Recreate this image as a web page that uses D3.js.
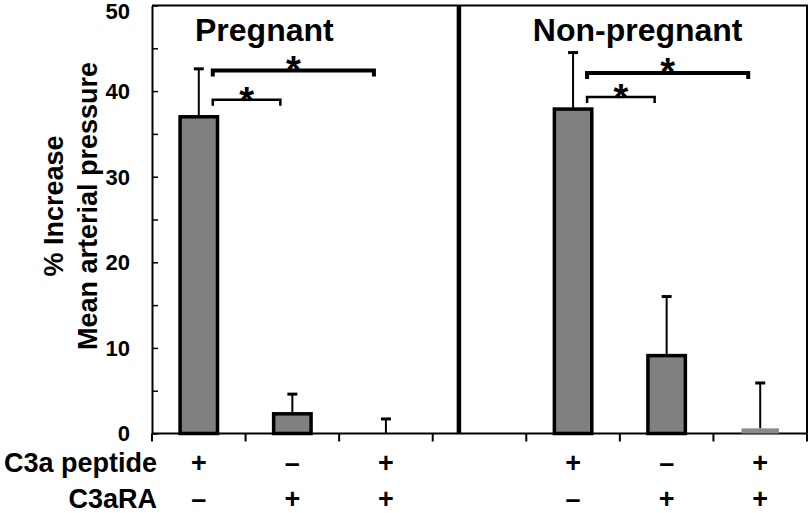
<!DOCTYPE html>
<html>
<head>
<meta charset="utf-8">
<script src="https://cdn.jsdelivr.net/npm/d3@7"></script>
<style>
  html, body { margin: 0; padding: 0; background: #fff; }
  text { font-family: "Liberation Sans", Arial, sans-serif; font-weight: bold; fill: #000; }
</style>
</head>
<body>
<svg id="chart" width="812" height="513"></svg>
<script>
// ---- data ----
const categories = ["P1", "P2", "P3", "gap", "NP1", "NP2", "NP3"];
const groups = ["Pregnant", "Non-pregnant"];
const barCats = ["P1", "P2", "P3", "NP1", "NP2", "NP3"];
const meanValues = [37.0, 2.3, 0.0, 37.9, 9.1, 0.6];
const errValues = [5.6, 2.3, 1.7, 6.6, 6.9, 5.3];
const bordered = [true, true, true, true, true, false];
const c3aPeptide = ["+", "\u2013", "+", "+", "\u2013", "+"];
const c3aRA = ["\u2013", "+", "+", "\u2013", "+", "+"];
const yTicks = [0, 5, 10, 15, 20, 25, 30, 35, 40, 45, 50];
const yTickLabels = [0, 10, 20, 30, 40, 50];
const brackets = [
  { from: "P1", to: "P3", level: 42.4, label: "*", heavy: true },
  { from: "P1", to: "P2", level: 39.0, label: "*", heavy: false },
  { from: "NP1", to: "NP3", level: 42.1, label: "*", heavy: true },
  { from: "NP1", to: "NP2", level: 39.3, label: "*", heavy: false }
];
const yLabelLines = ["% Increase", "Mean arterial pressure"];
const rowLabels = ["C3a peptide", "C3aRA"];

(function () {
// ---- layout ----
const svg = d3.select("#chart");
const pLeft = 152, pRight = 807, pTop = 5.5, pBottom = 433.5;

const x = d3.scaleBand().domain(categories).range([pLeft, pRight]).paddingInner(0).paddingOuter(0);
const y = d3.scaleLinear().domain([0, 50]).range([pBottom, pTop]);
const bw = x.bandwidth();
const barW = bw * 0.40;
const cx = c => x(c) + bw / 2;

// frame (top & right)
svg.append("path")
  .attr("d", `M${pLeft},${pTop}H${pRight}V${pBottom}`)
  .attr("fill", "none").attr("stroke", "#000").attr("stroke-width", 2);

// y axis (ticks inward, labels drawn separately)
const yAxis = d3.axisLeft(y).tickValues(yTicks).tickSizeInner(-6).tickSizeOuter(0).tickFormat("");
const gy = svg.append("g").attr("transform", `translate(${pLeft},0)`).call(yAxis);
gy.select(".domain").attr("stroke-width", 2);
gy.selectAll(".tick line").attr("stroke-width", 1.5);
gy.selectAll(".tick text").remove();

svg.append("g").selectAll("text").data(yTickLabels).enter().append("text")
  .attr("x", 130)
  .attr("y", d => Math.max(y(d), 11))
  .attr("dy", "0.36em")
  .attr("text-anchor", "end")
  .attr("font-size", 22)
  .text(d => d);

// x axis line & ticks
svg.append("line").attr("x1", pLeft).attr("x2", pRight).attr("y1", pBottom).attr("y2", pBottom)
  .attr("stroke", "#000").attr("stroke-width", 2);
const edges = categories.map(c => x(c)).concat([pRight]);
svg.selectAll(".xt").data(edges).enter().append("line")
  .attr("x1", d => d).attr("x2", d => d).attr("y1", pBottom).attr("y2", pBottom + 8)
  .attr("stroke", "#000").attr("stroke-width", 2);

// divider between panels
const divX = x("gap") + bw * 0.28;
svg.append("line").attr("x1", divX).attr("x2", divX).attr("y1", pTop).attr("y2", pBottom)
  .attr("stroke", "#000").attr("stroke-width", 4.5);

// bars
const barData = barCats.map((c, i) => ({ c, v: meanValues[i], e: errValues[i], b: bordered[i] }));

// error bars (behind bars)
const eg = svg.append("g");
barData.forEach(d => {
  const xc = cx(d.c);
  eg.append("line").attr("x1", xc).attr("x2", xc).attr("y1", y(d.v)).attr("y2", y(d.v + d.e))
    .attr("stroke", "#000").attr("stroke-width", 2);
  eg.append("line").attr("x1", xc - 5).attr("x2", xc + 5).attr("y1", y(d.v + d.e)).attr("y2", y(d.v + d.e))
    .attr("stroke", "#000").attr("stroke-width", 3);
});

svg.append("g").selectAll("rect").data(barData.filter(d => d.v > 0)).enter().append("rect")
  .attr("x", d => cx(d.c) - barW / 2)
  .attr("width", barW)
  .attr("y", d => y(d.v))
  .attr("height", d => y(0) - y(d.v))
  .attr("fill", d => d.b ? "#808080" : "#8a8a8a")
  .attr("stroke", d => d.b ? "#000" : "none")
  .attr("stroke-width", 3.5);

// significance brackets
brackets.forEach(b => {
  const x1 = cx(b.from) + 14;
  const x2 = cx(b.to) - 12;
  const yy = y(b.level);
  const sw = b.heavy ? 4 : 2.5;
  const drop = 6;
  svg.append("path")
    .attr("d", `M${x1},${yy + drop}V${yy}H${x2}V${yy + drop}`)
    .attr("fill", "none").attr("stroke", "#000").attr("stroke-width", sw);
  svg.append("text").attr("x", (x1 + x2) / 2).attr("y", yy + (b.heavy ? 12 : 14))
    .attr("text-anchor", "middle").attr("font-size", 38).text(b.label);
});

// panel titles
const titleCenters = [ (x("P1") + x("P3") + bw) / 2 - 28, (x("NP1") + x("NP3") + bw) / 2 - 29 ];
groups.forEach((g, i) => {
  svg.append("text").attr("x", titleCenters[i]).attr("y", 41)
    .attr("text-anchor", "middle").attr("font-size", 32).text(g);
});

// y label
const yl = svg.append("text").attr("transform", "translate(0,206) rotate(-90)")
  .attr("text-anchor", "middle").attr("font-size", 27);
yl.append("tspan").attr("x", 0).attr("y", 63).text(yLabelLines[0]);
yl.append("tspan").attr("x", 0).attr("y", 97).text(yLabelLines[1]);

// treatment rows
const rowY = [472, 508];
svg.append("text").attr("x", 157).attr("y", rowY[0]).attr("text-anchor", "end").attr("font-size", 27).text(rowLabels[0]);
svg.append("text").attr("x", 157).attr("y", rowY[1]).attr("text-anchor", "end").attr("font-size", 27).text(rowLabels[1]);
barCats.forEach((c, i) => {
  svg.append("text").attr("x", cx(c)).attr("y", rowY[0]).attr("text-anchor", "middle").attr("font-size", 27).text(c3aPeptide[i]);
  svg.append("text").attr("x", cx(c)).attr("y", rowY[1]).attr("text-anchor", "middle").attr("font-size", 27).text(c3aRA[i]);
});
})();
</script>
</body>
</html>
